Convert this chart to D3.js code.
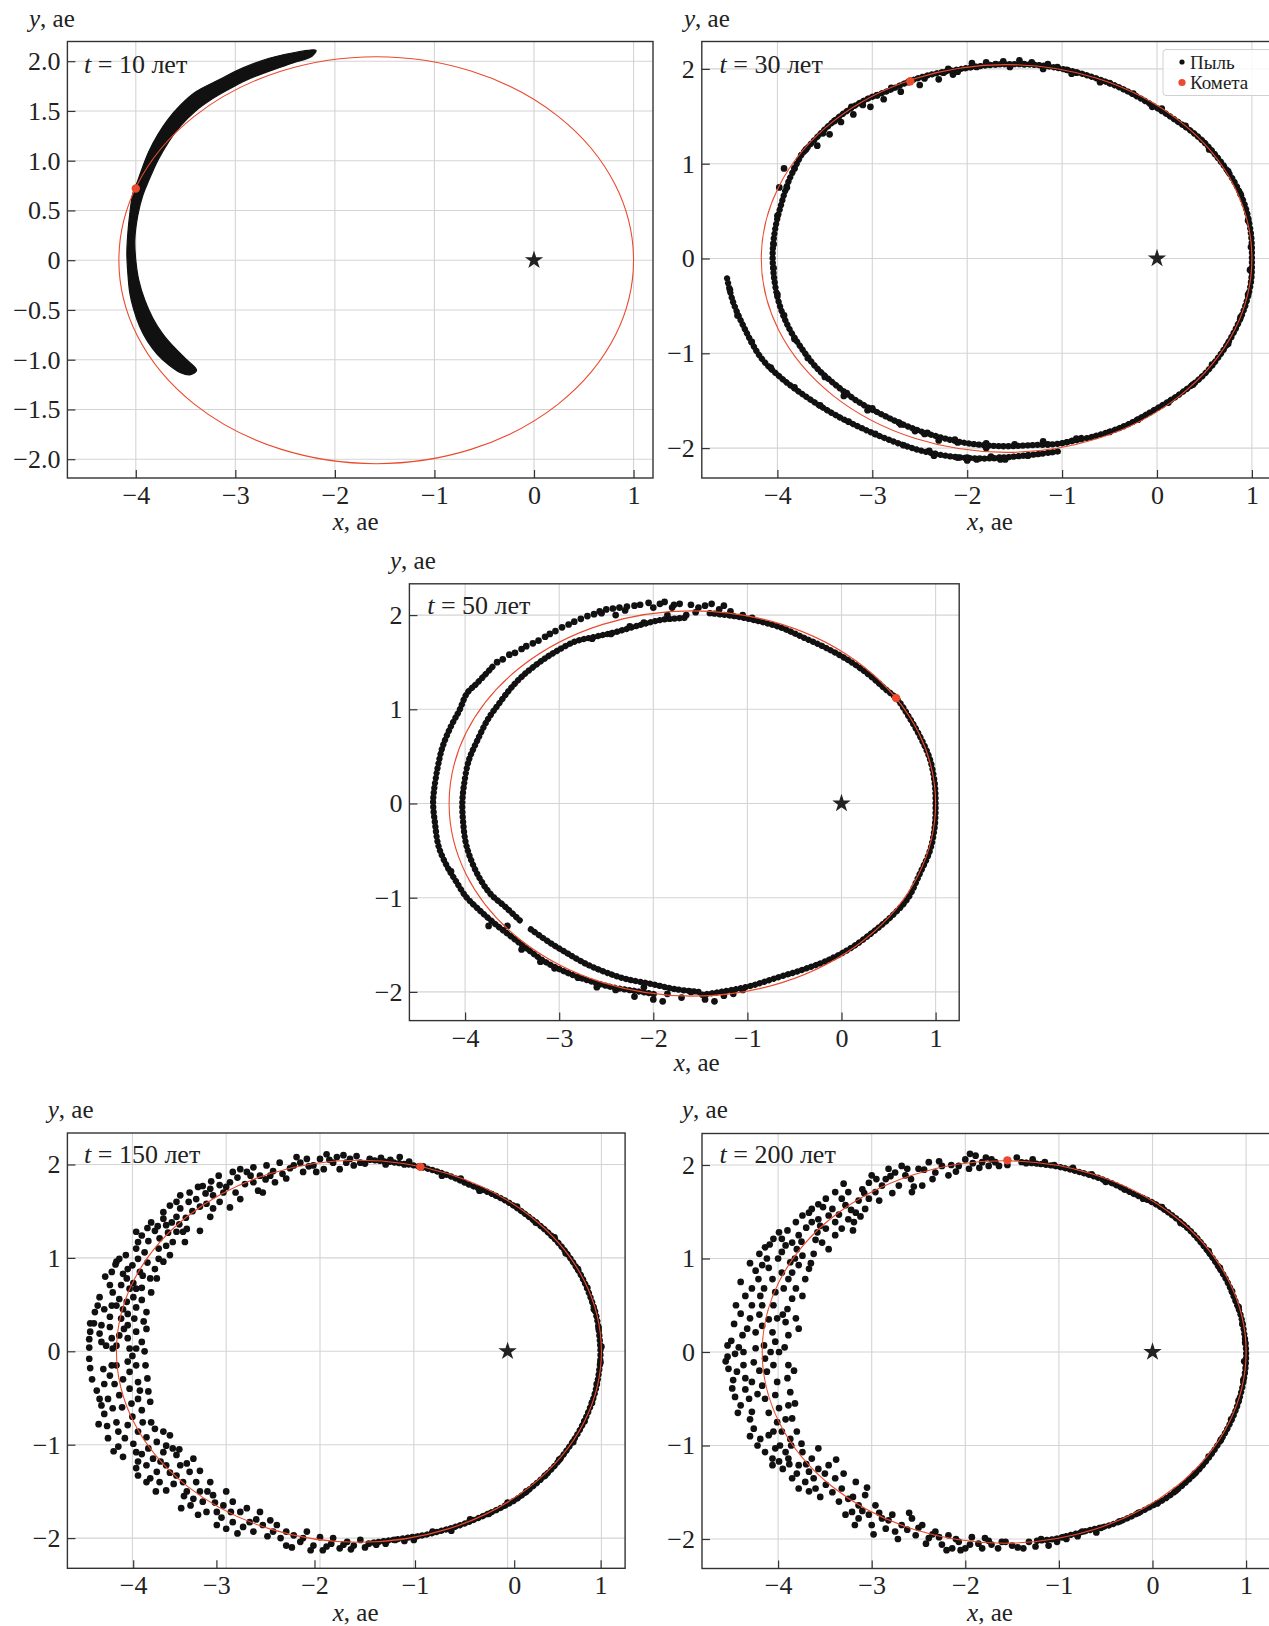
<!DOCTYPE html>
<html>
<head>
  <meta charset="utf-8">
  <title>Пыль и комета</title>
  <style>
  * { margin: 0; padding: 0; }
  body { background: #fff; }
  text { font-family: "Liberation Serif", "Times New Roman", "DejaVu Serif", serif; fill: #222; }
  </style>
</head>
<body>
<script src="https://cdn.jsdelivr.net/npm/d3@7"></script>
<script>
// ---- data (ае) ----
var times = ["10", "30", "50", "150", "200"];
var xTicks = [-4, -3, -2, -1, 0, 1];
var yTicks10 = [-2, -1.5, -1, -0.5, 0, 0.5, 1, 1.5, 2];
var yTicks = [-2, -1, 0, 1, 2];
var orbit = [-1.585, 0, 2.585, 2.045]; // centre x, centre y, semi-axis x, semi-axis y
var comets = [[-4.0, 0.72], [-2.6, 1.87], [0.58, 1.12], [-0.93, 1.975], [-1.55, 2.05]];
var sun = [0, 0];
var legendLabels = ["Пыль", "Комета"];

// t = 10: dense band, outline (outer edge down, inner edge back up)
var band10 = [
  [-2.19,2.11],[-2.39,2.09],[-2.66,2.03],[-2.93,1.93],[-3.16,1.815],[-3.40,1.69],[-3.55,1.56],[-3.68,1.41],
  [-3.78,1.26],[-3.87,1.09],[-3.93,0.94],[-3.98,0.80],[-4.03,0.67],[-4.06,0.47],[-4.08,0.27],[-4.09,0.07],
  [-4.08,-0.13],[-4.06,-0.33],[-4.02,-0.50],[-3.96,-0.67],[-3.88,-0.82],[-3.78,-0.95],[-3.67,-1.05],[-3.55,-1.13],
  [-3.45,-1.15],
  [-3.39,-1.105],[-3.50,-0.99],[-3.62,-0.87],[-3.73,-0.74],[-3.83,-0.58],[-3.91,-0.40],[-3.97,-0.20],[-4.0,0.0],
  [-4.01,0.20],[-3.98,0.45],[-3.93,0.65],[-3.87,0.80],[-3.78,1.00],[-3.67,1.19],[-3.55,1.35],[-3.40,1.50],
  [-3.25,1.61],[-3.08,1.71],[-2.89,1.81],[-2.66,1.90],[-2.43,1.98],[-2.23,2.05]
];

// t = 30
var streams30 = [
  [[-4.53,-0.21],[-4.47,-0.45],[-4.35,-0.73],[-4.17,-1.05],[-3.96,-1.26],[-3.68,-1.47],[-3.39,-1.65],[-3.11,-1.79],
   [-2.83,-1.91],[-2.51,-2.02],[-2.16,-2.09],[-1.81,-2.11],[-1.51,-2.09],[-1.22,-2.06],[-1.01,-2.03]],
  [[-3.75,1.09],[-3.88,0.82],[-3.96,0.57],[-4.02,0.33],[-4.05,0.05],[-4.03,-0.24],[-3.98,-0.48],[-3.88,-0.73],
   [-3.75,-0.94],[-3.59,-1.15],[-3.39,-1.33],[-3.15,-1.51],[-2.87,-1.66],[-2.58,-1.79],[-2.27,-1.89],[-1.99,-1.95],
   [-1.63,-1.98],[-1.35,-1.97],[-1.01,-1.95],[-0.76,-1.88]],
  [[-3.75,1.09],[-3.61,1.25],[-3.46,1.40],[-3.29,1.54],[-3.08,1.67],[-2.83,1.77],[-2.58,1.88],[-2.34,1.95],
   [-2.06,2.0],[-1.77,2.04],[-1.53,2.05],[-1.25,2.04],[-1.0,2.0],[-0.76,1.94],[-0.43,1.82],[-0.14,1.67],
   [0.15,1.49],[0.45,1.27],[0.65,1.05],[0.82,0.80],[0.93,0.55],[0.99,0.26],[1.0,0.0],[0.99,-0.25],[0.93,-0.50],
   [0.82,-0.76],[0.67,-1.01],[0.49,-1.23],[0.24,-1.43],[-0.05,-1.61],[-0.35,-1.77],[-0.68,-1.88],[-1.01,-1.95]]
];
var dots30 = [
  [-3.58,1.19],[-3.45,1.31],[-3.33,1.44],[-3.2,1.52],[-3.02,1.6],[-2.88,1.68],[-2.7,1.76],[-2.5,1.83],[-2.3,1.89],
  [-2.15,1.94],[-2.2,2.0],[-1.95,2.06],[-1.8,2.07],[-1.62,2.08],[-1.45,2.09],[-1.32,2.07],[-1.15,2.05],[-0.95,1.99],
  [-0.85,1.96],[-3.3,-1.45],[-3.05,-1.6],[-2.7,-1.75],[-2.45,-1.85],[-2.1,-1.94],[-1.8,-2.0],[-2.35,-2.08],
  [-2.0,-2.13],[-1.65,-2.12],[-3.98,0.75],[-3.93,0.95],
  [-3.82,0.95],[-3.9,0.75],[-3.7,1.15],[-3.52,1.32],[-3.4,1.45],[-3.22,1.6],[-3.1,1.62],[-2.95,1.72],[-2.8,1.8],
  [-2.62,1.86],[-2.45,1.9],[-2.25,1.96],[-2.1,1.97],[-1.9,2.02],[-1.7,2.05],[-1.55,2.02],[-1.4,2.05],[-1.2,2.0],
  [-1.05,2.02],[-0.9,1.95],[-0.6,1.86],[-0.5,1.85],[-0.25,1.74],[-0.05,1.6],[0.05,1.58],[0.3,1.4],[0.55,1.15],
  [0.75,0.92],[0.88,0.68],[0.96,0.4],[0.99,0.12],[0.98,-0.12],[0.96,-0.38],[0.88,-0.62],[0.75,-0.9],[0.58,-1.12],
  [0.38,-1.33],[0.12,-1.52],[-0.2,-1.7],[-0.5,-1.83],[-0.85,-1.9],[-1.15,-1.96],
  [-4.0,0.45],[-4.04,0.15],[-4.04,-0.1],[-4.0,-0.38],[-3.93,-0.6],[-3.82,-0.85],[-3.68,-1.05],[-3.5,-1.25],
  [-3.27,-1.42],[-3.0,-1.58],[-2.72,-1.73],[-2.42,-1.84],[-2.13,-1.91],[-1.8,-1.95],[-1.5,-1.96],[-1.2,-1.93],
  [-2.55,-1.82],[-2.3,-1.92],
  [-4.5,-0.33],[-4.42,-0.6],[-4.27,-0.88],[-4.07,-1.15],[-3.82,-1.36],[-3.55,-1.55],[-3.25,-1.72],[-2.97,-1.85],
  [-2.67,-1.97],[-2.34,-2.06],[-2.0,-2.1],[-1.66,-2.1],[-1.36,-2.08],[-1.9,-2.12],[-1.6,-2.12],[-2.4,-2.03],
  [-2.1,-2.1],[-1.75,-2.09]
];

// t = 50
var streams50 = [
  [[-3.71,1.45],[-3.87,1.28],[-3.98,1.17],[-4.06,0.99],[-4.15,0.82],[-4.24,0.60],[-4.29,0.39],
   [-4.33,0.14],[-4.34,0],[-4.32,-0.21],[-4.28,-0.46],[-4.19,-0.67],[-4.10,-0.82],[-3.99,-0.99],[-3.85,-1.13],
   [-3.68,-1.28],[-3.50,-1.42],[-3.32,-1.56],[-3.15,-1.68],[-2.93,-1.79],[-2.69,-1.88],[-2.44,-1.95],[-2.19,-1.99],
   [-1.95,-2.03]],
  [[-1.52,-2.0],[-1.77,-1.97],[-2.05,-1.91],[-2.30,-1.86],[-2.51,-1.79],[-2.72,-1.70],[-2.93,-1.58],[-3.11,-1.47],
   [-3.31,-1.33]],
  [[-3.42,-1.24],[-3.57,-1.10],[-3.73,-0.96],[-3.83,-0.82],[-3.92,-0.64],[-3.99,-0.43],[-4.02,-0.21],[-4.03,0],
   [-4.01,0.21],[-3.96,0.46],[-3.87,0.67],[-3.76,0.89],[-3.64,1.06],[-3.50,1.24],[-3.36,1.38],[-3.18,1.52],
   [-3.04,1.61],[-2.83,1.72],[-2.62,1.77],[-2.40,1.82],[-2.12,1.90],[-1.91,1.95],[-1.66,1.97]],
  [[-1.40,2.02],[-1.15,1.99],[-0.90,1.94],[-0.65,1.87],[-0.40,1.76],[-0.16,1.65],[0.09,1.51],
   [0.30,1.36],[0.46,1.22],[0.59,1.11],[0.71,0.93],[0.83,0.72],[0.94,0.47],[0.99,0.22],[1.0,0],[0.99,-0.25],
   [0.94,-0.50],[0.83,-0.75],[0.71,-1.0],[0.55,-1.18],[0.34,-1.36],[0.09,-1.54],[-0.16,-1.67],[-0.40,-1.76],
   [-0.69,-1.85],[-0.98,-1.94],[-1.23,-1.99],[-1.48,-2.03]]
];
var dots50 = [
  [-2.0,2.08],[-1.93,2.12],[-1.85,2.0],[-1.8,2.08],[-1.72,2.12],[-1.65,2.0],[-1.55,2.03],[-1.45,2.1],[-1.38,2.12],
  [-1.3,2.06],[-1.25,2.1],[-1.18,2.04],[-1.05,2.0],[-0.95,1.97],[-2.1,1.92],[-2.25,1.88],[-2.4,2.0],[-2.3,2.05],
  [-2.55,2.02],[-2.2,2.1],[-2.65,1.75],[-2.45,1.8],
  [-2.4,-1.98],[-2.2,-2.05],[-2.0,-2.08],[-1.85,-2.02],[-1.7,-2.06],[-1.6,-2.0],[-1.45,-2.08],[-1.35,-2.1],
  [-1.25,-2.04],[-1.15,-2.02],[-1.05,-1.98],[-2.6,-1.95],[-2.1,-1.95],[-1.9,-2.1],
  [-4.15,-0.72],[-3.75,-1.3],[-3.4,-1.55],[-3.05,-1.75],[-2.8,-1.85],[-3.55,-1.3],[-3.2,-1.68],
  [-3.66,1.5],[-3.6,1.53],[-3.53,1.58],[-3.47,1.6],[-3.4,1.64],[-3.35,1.67],[-3.28,1.7],[-3.22,1.73],[-3.15,1.77],
  [-3.1,1.8],[-3.04,1.83],[-2.97,1.87],[-2.9,1.9],[-2.84,1.93],[-2.77,1.96],[-2.7,1.99],[-2.63,2.01],[-2.57,2.04],
  [-2.5,2.06],[-2.43,2.07],[-2.36,2.08],[-2.28,2.09],[-2.14,2.11],[-2.05,2.13],[-1.88,2.14],[-1.78,2.11],
  [-1.6,2.11],[-1.52,2.08]
];

// t = 150
var streams150 = [
  [[-1.47,2.05],[-1.2,2.02],[-1.0,1.99],[-0.8,1.94],[-0.6,1.87],[-0.4,1.78],[-0.2,1.7],[0.0,1.6],[0.2,1.46],
   [0.4,1.3],[0.55,1.15],[0.68,0.98],[0.8,0.78],[0.89,0.56],[0.95,0.36],[0.98,0.15],[0.99,-0.05],[0.97,-0.25],
   [0.93,-0.45],[0.86,-0.65],[0.76,-0.86],[0.63,-1.06],[0.48,-1.25],[0.3,-1.42],[0.1,-1.58],[-0.1,-1.69],
   [-0.3,-1.78],[-0.5,-1.86],[-0.7,-1.92],[-0.9,-1.97],[-1.1,-2.0],[-1.3,-2.03],[-1.45,-2.05]]
];
var dots150 = [
  [-4.45,0.21],[-4.46,0.13],[-4.46,0.04],[-4.46,-0.08],[-4.45,-0.18],
  [-4.35,0.58],[-4.37,0.49],[-4.33,0.28],[-4.35,0.19],[-4.33,0.10],[-4.31,-0.19],[-4.38,-0.42],[-4.35,-0.51],
  [-4.33,-0.58],[-4.30,-0.67],[-4.26,-0.93],
  [-4.22,0.85],[-4.24,0.71],[-4.21,0.63],[-4.22,0.49],[-4.24,0.37],[-4.24,0.26],[-4.22,0.14],[-4.21,0.03],
  [-4.22,-0.15],[-4.24,-0.26],[-4.26,-0.51],[-4.21,-0.61],[-4.17,-0.76],[-4.15,-0.86],[-4.15,-1.02],[-4.10,-1.13],
  [-4.14,0.99],[-4.17,0.96],[-4.12,0.71],[-4.14,0.56],[-4.17,0.49],[-4.12,0.35],[-4.14,0.17],[-4.17,0.06],
  [-4.17,-0.15],[-4.19,-0.35],[-4.14,-0.47],
  [-4.05,0.88],[-4.06,0.78],[-4.03,0.67],[-4.06,0.53],[-4.05,0.40],[-4.05,0.28],[-4.05,0.14],[-4.03,0.03],
  [-4.05,-0.11],[-4.03,-0.22],[-4.03,-0.40],[-4.01,-0.56],[-4.05,-0.79],[-4.08,-0.93],[-3.99,-0.99],[-3.96,-1.08],
  [-3.96,1.10],[-3.94,0.99],[-3.96,0.67],[-3.96,0.47],[-3.98,0.35],[-3.96,0.21],[-3.96,0.03],[-3.96,-0.15],
  [-3.94,-0.33],[-3.94,-0.51],[-3.90,-0.63],[-3.89,-0.76],[-3.94,-0.86],[-3.85,-0.92],
  [-3.85,0.42],[-3.85,0.24],[-3.87,0.0],[-3.86,-0.15],[-3.84,-0.29],[-3.83,-0.43],[-3.81,-0.54],[-3.80,-0.76],
  [-3.76,-0.83],[-3.83,-1.04],[-3.78,-1.15],
  [-3.90,1.24],[-3.94,1.17],[-3.87,1.06],[-3.89,0.81],[-3.81,0.78],[-3.76,0.88],[-3.74,0.78],[-3.80,0.63],
  [-3.96,1.28],[-3.80,1.38],[-3.76,1.29],[-3.67,1.42],[-3.64,1.35],[-3.71,1.21],[-3.64,1.13],[-3.57,1.17],
  [-3.60,1.03],[-3.67,0.96],[-3.53,1.44],[-3.49,1.53],[-3.53,1.28],[-3.46,1.28],[-3.44,1.17],[-3.42,1.31],
  [-3.60,1.56],[-3.67,1.49],[-3.53,1.60],[-3.49,1.67],[-3.39,1.70],[-3.32,1.63],[-3.28,1.29],[-3.25,1.77],
  [-3.17,1.74],[-3.14,1.67],[-3.21,1.58],[-3.14,1.53],[-3.07,1.60],[-3.03,1.70],[-3.07,1.78],[-2.96,1.81],
  [-2.96,1.54],[-3.17,1.44],
  [-2.93,1.92],[-2.85,1.95],[-2.78,1.92],[-2.71,1.97],[-2.71,1.81],[-2.66,1.72],[-2.64,1.88],[-2.57,1.99],
  [-2.53,1.88],[-2.48,1.81],[-2.43,2.02],[-2.36,1.85],[-2.28,1.99],[-2.25,2.08],[-2.21,2.02],[-2.18,1.92],
  [-2.14,2.06],[-2.07,1.99],[-2.04,1.92],[-2.0,2.06],[-1.96,1.95],[-1.93,2.11],[-1.86,2.02],[-1.79,1.95],
  [-1.75,2.10],[-1.68,2.06],[-1.64,1.99],[-1.57,2.02],[-1.47,2.06],[-2.61,1.70],[-2.85,1.63],
  [-1.35,2.07],[-1.25,2.05],[-1.15,2.08],[-1.05,2.03],
  [-4.07,1.03],[-4.18,0.93],[-4.1,0.83],[-4.0,0.92],[-3.92,0.85],[-3.99,0.73],[-3.9,0.68],[-3.84,0.95],
  [-3.72,0.99],[-3.72,1.1],[-3.83,1.18],[-3.84,1.32],[-3.73,1.34],[-3.62,1.27],[-3.58,1.38],[-3.43,1.43],
  [-3.5,1.36],[-3.36,1.5],[-3.4,1.6],[-3.28,1.55],[-3.22,1.69],[-3.3,1.76],[-3.16,1.82],[-3.08,1.88],[-3.0,1.76],
  [-2.9,1.7],[-2.88,1.86],[-2.8,1.79],[-2.74,1.88],[-2.58,1.84],[-2.5,1.93],[-2.4,1.9],[-2.32,1.96],[-2.12,1.98],
  [-1.9,2.05],[-1.82,2.08],[-1.72,2.02],[-1.61,2.09],[-1.52,2.01],
  [-4.41,0.3],[-4.43,-0.3],[-4.4,0.42],[-4.29,0.8],[-4.3,0.45],[-4.28,0.06],[-4.3,-0.35],[-4.27,-0.8],[-4.1,0.45],
  [-4.1,-0.3],[-4.11,-0.6],[-4.09,0.24],[-3.99,0.58],[-4.0,-0.05],[-3.92,-0.42],[-3.9,0.1],[-3.88,0.32],[-3.9,0.55],
  [-4.0,-0.7],[-3.94,-1.18],[-4.2,-1.07],[-4.36,-0.78],[-4.45,0.3],
  [-3.74,-0.97],[-3.67,-0.86],[-3.64,-1.01],[-3.60,-0.90],[-3.57,-1.04],[-3.85,-1.22],[-3.96,-1.25],[-3.81,-1.36],
  [-3.74,-1.29],[-3.67,-1.08],[-3.64,-1.22],[-3.53,-1.11],[-3.49,-1.22],[-3.53,-1.33],[-3.46,-1.40],[-3.39,-1.29],
  [-3.35,-1.15],[-3.42,-1.50],[-3.32,-1.40],[-3.28,-1.50],[-3.25,-1.61],[-3.17,-1.40],[-3.14,-1.54],[-3.10,-1.72],
  [-3.03,-1.65],[-3.0,-1.50],[-2.93,-1.61],[-2.93,-1.83],[-2.85,-1.72],[-2.78,-1.68],[-2.75,-1.83],[-2.64,-1.72],
  [-2.61,-1.86],[-2.53,-1.81],[-2.50,-1.93],[-2.46,-1.86],[-2.36,-1.93],[-2.36,-2.08],[-2.28,-1.97],[-2.21,-2.04],
  [-2.14,-1.93],[-2.07,-2.08],[-2.0,-1.99],[-1.93,-2.09],[-1.86,-2.0],[-1.79,-2.11],[-1.71,-2.04],[-1.64,-2.08],
  [-1.57,-2.02],[-1.48,-2.06],
  [-3.94,-1.33],[-3.85,-1.40],[-3.71,-1.40],[-3.64,-1.49],[-3.48,-1.68],[-3.35,-1.58],[-3.21,-1.72],[-3.10,-1.86],
  [-3.0,-1.90],[-2.82,-1.88],[-2.71,-1.93],
  [-3.7,-1.18],[-3.6,-1.3],[-3.56,-1.42],[-3.45,-1.55],[-3.38,-1.65],[-3.3,-1.75],[-3.2,-1.5],[-3.05,-1.78],
  [-2.95,-1.72],[-2.88,-1.95],[-2.68,-1.8],[-2.56,-1.98],[-2.42,-2.0],[-2.3,-2.1],[-2.18,-2.0],[-2.1,-2.13],
  [-1.97,-2.13],[-1.88,-2.06],[-1.75,-2.07],[-1.67,-2.12],[-1.52,-2.1],[-1.4,-2.07],[-1.3,-2.06],[-1.2,-2.02],
  [-1.1,-2.03],[-3.5,-1.05],[-3.42,-1.2],[-3.28,-1.28],[-3.12,-1.62],[-3.75,-1.5],[-3.9,-1.1],
  [-1.3,2.0],[-1.1,2.0],[-0.9,1.98],[-0.7,1.88],[-0.5,1.85],[-0.3,1.72],[0.1,1.55],[0.3,1.38],[0.5,1.22],
  [0.62,1.05],[0.75,0.88],[0.85,0.68],[0.92,0.45],[0.97,0.25],[1.0,0.05],[0.99,-0.12],[0.95,-0.35],[0.9,-0.55],
  [0.82,-0.75],[0.7,-0.97],[0.55,-1.16],[0.4,-1.33],[0.2,-1.5],[0.0,-1.62],[-0.2,-1.74],[-0.4,-1.8],[-0.6,-1.92],
  [-0.8,-1.93],[-1.0,-2.02]
];

// t = 200
var streams200 = [
  [[-1.4,2.03],[-1.2,2.01],[-1.0,1.98],[-0.8,1.93],[-0.6,1.87],[-0.4,1.79],[-0.2,1.69],[0.0,1.6],[0.2,1.47],
   [0.4,1.3],[0.55,1.13],[0.68,0.95],[0.8,0.75],[0.88,0.56],[0.94,0.4],[0.98,0.2],[1.0,0.0],[0.99,-0.2],
   [0.95,-0.42],[0.89,-0.62],[0.8,-0.82],[0.68,-1.02],[0.53,-1.22],[0.35,-1.4],[0.15,-1.56],[-0.05,-1.67],
   [-0.25,-1.77],[-0.45,-1.85],[-0.65,-1.9],[-0.85,-1.95],[-1.05,-2.0],[-1.25,-2.02]]
];
var dots200 = [
  [-4.54,0.07],[-4.54,-0.05],[-4.53,-0.18],[-4.49,-0.39],[-4.46,-0.02],[-4.44,-0.21],[-4.46,-0.48],[-4.40,-0.57],
  [-4.37,-0.14],[-4.35,-0.28],[-4.38,0.18],[-4.37,0.0],[-4.40,0.41],[-4.28,-0.32],[-4.31,-0.50],[-4.28,-0.64],
  [-4.26,-0.82],[-4.24,0.04],[-4.26,-0.11],[-4.24,0.21],[-4.28,0.50],[-4.30,0.36],[-4.19,0.60],[-4.15,0.68],
  [-4.21,0.78],[-4.17,0.50],[-4.17,0.28],[-4.15,0.07],[-4.14,-0.07],[-4.12,-0.21],[-4.17,-0.36],[-4.14,-0.50],
  [-4.19,-0.93],[-4.14,-1.07],[-4.06,-1.14],[-4.03,-1.03],[-4.10,-0.89],
  [-4.06,0.78],[-4.03,0.64],[-4.05,0.50],[-4.01,0.36],[-4.06,0.21],[-4.03,0.11],[-3.99,0.0],[-4.05,-0.14],
  [-4.01,-0.32],[-4.03,-0.46],[-3.99,-0.60],[-4.01,-0.75],[-3.96,-0.85],[-3.98,-1.0],
  [-3.94,0.68],[-3.90,0.46],[-3.92,0.32],[-3.89,0.18],[-3.89,-0.14],[-3.90,-0.28],[-3.87,-0.43],[-3.89,-0.57],
  [-3.85,-0.71],[-3.87,-0.93],[-3.89,-1.14],
  [-4.35,0.60],[-4.28,0.68],[-4.24,0.87],[-4.17,0.93],[-4.12,1.0],[-4.14,1.12],[-4.05,1.21],[-3.96,1.21],
  [-3.99,1.28],[-3.92,1.14],[-3.85,1.17],[-3.78,1.25],[-3.80,1.10],[-3.74,1.03],[-3.87,0.96],[-3.96,0.85],
  [-3.89,0.78],[-3.81,0.68],[-3.85,0.57],[-3.81,0.36],[-3.78,0.93],[-3.67,0.89],[-3.71,0.78],[-3.74,0.60],
  [-3.96,1.07],
  [-3.81,1.39],[-3.74,1.46],[-3.67,1.49],[-3.64,1.39],[-3.57,1.42],[-3.64,1.53],[-3.57,1.58],[-3.49,1.64],
  [-3.58,1.28],[-3.53,1.17],[-3.49,1.32],[-3.46,1.10],[-3.39,1.25],[-3.39,1.39],[-3.46,1.46],[-3.39,1.71],
  [-3.32,1.64],[-3.28,1.57],[-3.25,1.42],[-3.32,1.32],[-3.19,1.39],[-3.17,1.49],[-3.14,1.62],[-3.10,1.74],
  [-3.03,1.81],[-3.0,1.89],[-2.96,1.71],[-3.07,1.53],[-3.03,1.64],[-2.89,1.78],[-2.85,1.85],[-2.82,1.96],
  [-2.75,1.92],[-2.71,1.78],[-2.68,1.99],[-2.64,1.89],[-2.57,1.71],[-2.50,1.96],[-2.46,1.78],[-2.39,2.03],
  [-2.32,1.92],[-2.25,1.99],[-2.18,1.89],[-2.07,1.99],[-2.0,2.06],[-1.96,1.96],[-1.89,2.10],[-1.82,2.03],
  [-1.75,1.99],[-1.72,2.06],[-1.64,1.99],[-3.25,1.71],
  [-1.45,2.08],[-1.35,2.02],[-1.28,2.06],[-1.15,2.03],[-1.05,2.0],
  [-4.2,1.05],[-4.09,1.15],[-4.0,1.0],[-3.9,1.3],[-3.82,1.0],[-3.75,1.18],[-3.7,1.33],[-3.6,1.2],[-3.55,1.35],
  [-3.52,1.55],[-3.42,1.53],[-3.35,1.47],[-3.3,1.8],[-3.22,1.52],[-3.2,1.3],[-3.12,1.45],[-3.08,1.7],[-2.95,1.85],
  [-2.92,1.62],[-2.8,1.88],[-2.78,1.7],[-2.62,1.96],[-2.58,1.85],[-2.55,1.77],[-2.44,1.95],[-2.35,1.85],
  [-2.28,2.04],[-2.15,2.0],[-2.1,1.93],[-1.95,2.12],[-1.92,2.02],[-1.85,1.97],[-1.78,2.08],[-1.68,2.03],
  [-1.55,2.0],[-4.3,0.95],[-4.4,0.75],[-4.45,0.5],[-4.47,0.3],[-4.1,0.9],[-3.62,1.05],[-3.65,0.95],
  [-4.56,-0.1],[-4.5,0.12],[-4.48,-0.3],[-4.42,0.05],[-4.43,-0.65],[-4.35,-0.4],[-4.33,0.25],[-4.3,-0.72],
  [-4.22,-0.45],[-4.2,0.4],[-4.2,-0.2],[-4.1,0.35],[-4.08,0.0],[-4.1,-0.65],[-4.05,-0.85],[-3.95,0.4],[-3.93,0.05],
  [-3.92,-0.72],[-3.85,0.85],[-3.83,-0.2],[-3.82,-0.55],[-3.8,-0.85],[-3.75,-0.98],[-3.78,0.25],[-3.86,-1.0],
  [-4.22,-1.0],[-4.3,-0.9],
  [-4.06,-1.21],[-3.92,-1.07],[-3.85,-1.35],[-3.78,-1.21],[-3.74,-1.07],[-3.71,-1.39],[-3.67,-1.28],[-3.64,-1.14],
  [-3.57,-1.03],[-3.57,-1.25],[-3.60,-1.46],[-3.49,-1.42],[-3.46,-1.21],[-3.39,-1.35],[-3.35,-1.60],[-3.32,-1.46],
  [-3.25,-1.57],[-3.21,-1.71],[-3.17,-1.39],[-3.14,-1.64],[-3.07,-1.53],[-3.03,-1.74],[-3.0,-1.85],[-2.96,-1.64],
  [-2.89,-1.78],[-2.85,-1.89],[-2.78,-1.74],[-2.75,-1.92],[-2.68,-1.85],[-2.57,-1.78],[-2.53,-1.96],[-2.46,-1.85],
  [-2.39,-1.99],[-2.32,-1.92],[-2.25,-2.06],[-2.18,-1.96],[-2.14,-2.10],[-2.07,-2.03],[-2.0,-2.10],[-1.93,-1.98],
  [-1.86,-2.05],[-1.79,-1.99],[-1.72,-2.06],[-1.61,-2.03],[-3.99,-1.17],[-3.78,-1.46],[-3.67,-1.49],[-3.28,-1.74],
  [-3.14,-1.78],[-1.57,-2.03],[-1.44,-2.09],[-1.32,-2.03],[-1.19,-2.0],[-1.11,-2.07],
  [-3.95,-1.25],[-3.88,-1.2],[-3.8,-1.3],[-3.7,-1.2],[-3.62,-1.35],[-3.55,-1.55],[-3.5,-1.3],[-3.42,-1.5],
  [-3.38,-1.15],[-3.3,-1.3],[-3.2,-1.55],[-3.18,-1.85],[-3.1,-1.7],[-3.05,-1.45],[-2.98,-1.95],[-2.92,-1.72],
  [-2.82,-1.8],[-2.72,-2.0],[-2.62,-1.9],[-2.6,-1.72],[-2.5,-1.88],[-2.42,-2.05],[-2.35,-1.95],[-2.28,-1.98],
  [-2.2,-2.12],[-2.1,-2.0],[-2.05,-2.12],[-1.95,-2.06],[-1.82,-2.1],[-1.75,-2.02],[-1.65,-2.1],[-1.5,-2.07],
  [-1.38,-2.1],[-1.25,-2.08],[-1.02,-2.03],[-0.92,-2.0],
  [-0.85,1.97],[-0.65,1.9],[-0.5,1.82],[-0.3,1.74],[-0.1,1.64],[0.1,1.55],[0.3,1.38],[0.6,1.08],[0.72,0.9],
  [0.85,0.65],[0.92,0.48],[0.96,0.3],[0.99,0.1],[0.98,-0.1],[0.97,-0.3],[0.92,-0.52],[0.84,-0.72],[0.73,-0.94],
  [0.6,-1.12],[0.45,-1.3],[0.25,-1.48],[0.05,-1.62],[-0.15,-1.72],[-0.35,-1.81],[-0.55,-1.88],[-0.75,-1.92],
  [-0.95,-1.98],[-0.8,-1.97],[-0.6,-1.93]
];

var dustStreams = [[], streams30, streams50, streams150, streams200];
var dustDots = [[], dots30, dots50, dots150, dots200];

// ---- layout (pixels) ----
var W = 1269, H = 1626;
var layout = [
  {left: 67.4, right: 653, top: 41.5, bottom: 478, x0: 534, xu: 99.55, y0: 260.2, yu: 99.5,
   ylab: [29, 27], xlab: [355.6, 530], tlab: [84, 73]},
  {left: 701.8, right: 1272, top: 41.5, bottom: 478, x0: 1157, xu: 94.9, y0: 258.5, yu: 94.8,
   ylab: [684, 27], xlab: [990, 530], tlab: [719.5, 73]},
  {left: 409.4, right: 959.2, top: 583.8, bottom: 1020.6, x0: 841.5, xu: 94.1, y0: 803.5, yu: 94.2,
   ylab: [390, 569], xlab: [696.7, 1071], tlab: [427.2, 614]},
  {left: 67.4, right: 625.1, top: 1133, bottom: 1568.3, x0: 507.6, xu: 93.8, y0: 1351.3, yu: 93.4,
   ylab: [47.7, 1118], xlab: [355.6, 1621], tlab: [84, 1163], tickPx: [133.2, 216.4, 314.5, 415, 514.2, 600.6]},
  {left: 702, right: 1272, top: 1133.5, bottom: 1568.5, x0: 1152.5, xu: 93.6, y0: 1352, yu: 93.5,
   ylab: [682, 1118], xlab: [990, 1621], tlab: [719.5, 1163]}
];

var red = "#ea4a2e";
var ink = "#111";
var serif = "'Liberation Serif', 'Times New Roman', 'DejaVu Serif', serif";

var svg = d3.select("body").append("svg")
  .attr("width", W)
  .attr("height", H);

layout.forEach(function(p, i) {
  var x = d3.scaleLinear()
    .domain([(p.left - p.x0) / p.xu, (p.right - p.x0) / p.xu])
    .range([p.left, p.right]);
  var y = d3.scaleLinear()
    .domain([(p.y0 - p.bottom) / p.yu, (p.y0 - p.top) / p.yu])
    .range([p.bottom, p.top]);
  var yt = i === 0 ? yTicks10 : yTicks;
  var fmtY = i === 0 ? function(d) { return d === 0 ? "0" : d3.format(".1f")(d); } : d3.format("d");
  // tick labels of the t = 150 panel sit slightly off the grid in the original
  var xTickScale = p.tickPx ? d3.scaleLinear().domain(xTicks).range(p.tickPx) : x;

  var g = svg.append("g");
  var clipId = "clip" + i;
  g.append("clipPath").attr("id", clipId)
    .append("rect")
    .attr("x", p.left).attr("y", p.top)
    .attr("width", p.right - p.left).attr("height", p.bottom - p.top);
  var plot = g.append("g").attr("clip-path", "url(#" + clipId + ")");

  // grid
  plot.selectAll(".gx").data(xTicks).join("line")
    .attr("x1", d => x(d)).attr("x2", d => x(d))
    .attr("y1", p.top).attr("y2", p.bottom)
    .attr("stroke", "#d4d4d4").attr("stroke-width", 1.1);
  plot.selectAll(".gy").data(yt).join("line")
    .attr("y1", d => y(d)).attr("y2", d => y(d))
    .attr("x1", p.left).attr("x2", p.right)
    .attr("stroke", "#d4d4d4").attr("stroke-width", 1.1);

  // dust
  if (i === 0) {
    plot.append("path")
      .datum(band10)
      .attr("d", d3.line().x(d => x(d[0])).y(d => y(d[1])).curve(d3.curveCatmullRomClosed))
      .attr("fill", ink)
      .attr("stroke", ink)
      .attr("stroke-width", 1.2)
      .attr("stroke-linejoin", "round");
  }
  var streamLine = d3.line().x(d => x(d[0])).y(d => y(d[1])).curve(d3.curveCatmullRom);
  plot.selectAll(".stream").data(dustStreams[i]).join("path")
    .attr("d", streamLine)
    .attr("fill", "none")
    .attr("stroke", ink)
    .attr("stroke-width", 6.3)
    .attr("stroke-linecap", "round")
    .attr("stroke-linejoin", "round")
    .attr("stroke-dasharray", "0.1 4.8");
  plot.selectAll(".dot").data(dustDots[i]).join("circle")
    .attr("cx", d => x(d[0]))
    .attr("cy", d => y(d[1]))
    .attr("r", 3.35)
    .attr("fill", ink);

  // orbit
  plot.append("ellipse")
    .attr("cx", x(orbit[0]))
    .attr("cy", y(orbit[1]))
    .attr("rx", x(orbit[0] + orbit[2]) - x(orbit[0]))
    .attr("ry", y(orbit[1]) - y(orbit[1] + orbit[3]))
    .attr("fill", "none")
    .attr("stroke", red)
    .attr("stroke-width", 1.1);

  // comet and sun
  plot.append("circle")
    .attr("cx", x(comets[i][0]))
    .attr("cy", y(comets[i][1]))
    .attr("r", 4.2)
    .attr("fill", red);
  plot.append("path")
    .attr("d", d3.symbol(d3.symbolStar, 105)())
    .attr("transform", "translate(" + x(sun[0]) + "," + y(sun[1]) + ")")
    .attr("fill", "#222");

  // frame
  g.append("rect")
    .attr("x", p.left).attr("y", p.top)
    .attr("width", p.right - p.left).attr("height", p.bottom - p.top)
    .attr("fill", "none")
    .attr("stroke", "#333")
    .attr("stroke-width", 1.4);

  // axes, ticks pointing inside
  var xAxis = d3.axisBottom(xTickScale)
    .tickValues(xTicks)
    .tickFormat(d3.format("d"))
    .tickSizeInner(-8)
    .tickSizeOuter(0)
    .tickPadding(7.5);
  var yAxis = d3.axisLeft(y)
    .tickValues(yt)
    .tickFormat(fmtY)
    .tickSizeInner(-8)
    .tickSizeOuter(0)
    .tickPadding(7);
  var gx = g.append("g")
    .attr("transform", "translate(0," + p.bottom + ")")
    .call(xAxis);
  var gy = g.append("g")
    .attr("transform", "translate(" + p.left + ",0)")
    .call(yAxis);
  [gx, gy].forEach(function(a) {
    a.select(".domain").remove();
    a.selectAll("line").attr("stroke", "#333").attr("stroke-width", 1.2);
    a.selectAll("text")
      .attr("fill", "#222")
      .style("font-family", serif)
      .style("font-size", "26px");
  });

  // labels
  var yl = g.append("text")
    .attr("x", p.ylab[0]).attr("y", p.ylab[1])
    .style("font-size", "25px");
  yl.append("tspan").style("font-style", "italic").text("y");
  yl.append("tspan").text(", ае");
  var xl = g.append("text")
    .attr("x", p.xlab[0]).attr("y", p.xlab[1])
    .attr("text-anchor", "middle")
    .style("font-size", "25px");
  xl.append("tspan").style("font-style", "italic").text("x");
  xl.append("tspan").text(", ае");
  var tl = g.append("text")
    .attr("x", p.tlab[0]).attr("y", p.tlab[1])
    .style("font-size", "26px");
  tl.append("tspan").style("font-style", "italic").text("t");
  tl.append("tspan").text(" = " + times[i] + " лет");

  // legend (t = 30 panel only)
  if (i === 1) {
    var lg = g.append("g");
    lg.append("rect")
      .attr("x", 1163).attr("y", 49.5)
      .attr("width", 120).attr("height", 46)
      .attr("rx", 3)
      .attr("fill", "#fff").attr("fill-opacity", 0.85)
      .attr("stroke", "#d0d0d0");
    var colours = [ink, red];
    var radii = [2.6, 3.6];
    legendLabels.forEach(function(lab, k) {
      var cy = 62 + k * 20.5;
      lg.append("circle").attr("cx", 1182).attr("cy", cy).attr("r", radii[k]).attr("fill", colours[k]);
      lg.append("text").attr("x", 1190).attr("y", cy + 6.5).style("font-size", "19px").text(lab);
    });
  }
});
</script>
</body>
</html>
